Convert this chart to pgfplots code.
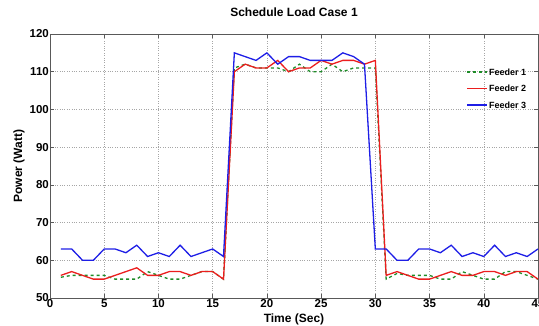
\documentclass[border=0pt]{standalone}
\usepackage{fontspec}
\setmainfont{Liberation Sans}
\usepackage{pgfplots}
\pgfplotsset{compat=1.18}
\definecolor{mgreen}{RGB}{30,140,40}
\definecolor{mred}{RGB}{235,30,30}
\definecolor{mblue}{RGB}{30,30,230}
\begin{document}
\begin{tikzpicture}
\begin{axis}[
  scale only axis,
  width=488pt, height=264pt,
  xmin=0, xmax=45, ymin=50, ymax=120,
  xtick={0,5,...,45}, ytick={50,60,...,120},
  grid=major,
  major grid style={black!35, dotted, line width=0.5pt},
  axis line style={black!65, line width=0.6pt},
  tick style={black!65, line width=0.5pt},
  tick align=inside,
  major tick length=4pt,
  /pgf/number format/assume math mode=true,
  tick label style={font=\fontsize{11.5}{12}\selectfont\bfseries, inner sep=1pt},
  title={Schedule Load Case 1},
  title style={at={(axis description cs:0.5,1)}, yshift=15.5pt, anchor=center, font=\fontsize{12}{13}\selectfont\bfseries},
  xlabel={Time (Sec)},
  ylabel={Power (Watt)},
  every axis x label/.style={at={(axis description cs:0.5,0)}, yshift=-21pt, anchor=center, font=\fontsize{12}{13}\selectfont\bfseries},
  every axis y label/.style={at={(axis description cs:0,0.5)}, xshift=-31pt, rotate=90, anchor=center, font=\fontsize{12}{13}\selectfont\bfseries},
]
\addplot[color=mgreen, dashed, line width=1.3pt] coordinates {
(1,55.5)(2,56)(3,56)(4,56)(5,56)(6,55)(7,55)(8,55)(9,57)(10,56)(11,55)(12,55)(13,56)(14,57)(15,57)(16,55)
(17,111)(18,112)(19,111)(20,111)(21,111)(22,110)(23,112)(24,110)(25,110)(26,112)(27,110)(28,111)(29,111)(30,111)
(31,55)(32,56.5)(33,56)(34,56)(35,56)(36,55)(37,55)(38,57)(39,56)(40,55)(41,55)(42,57)(43,57)(44,56)(45,55)};
\addplot[color=mred, line width=1.3pt] coordinates {
(1,56)(2,57)(3,56)(4,55)(5,55)(6,56)(7,57)(8,58)(9,56)(10,56)(11,57)(12,57)(13,56)(14,57)(15,57)(16,55)
(17,110)(18,112)(19,111)(20,111)(21,113)(22,110)(23,111)(24,111)(25,113)(26,112)(27,113)(28,113)(29,112)(30,113)
(31,56)(32,57)(33,56)(34,55)(35,55)(36,56)(37,57)(38,56)(39,56)(40,57)(41,57)(42,56)(43,57)(44,57)(45,55)};
\addplot[color=mblue, line width=1.3pt] coordinates {
(1,63)(2,63)(3,60)(4,60)(5,63)(6,63)(7,62)(8,64)(9,61)(10,62)(11,61)(12,64)(13,61)(14,62)(15,63)(16,61)
(17,115)(18,114)(19,113)(20,115)(21,112)(22,114)(23,114)(24,113)(25,113)(26,113)(27,115)(28,114)(29,112)
(30,63)(31,63)(32,60)(33,60)(34,63)(35,63)(36,62)(37,64)(38,61)(39,62)(40,61)(41,64)(42,61)(43,62)(44,61)(45,63)};
\draw[mgreen, dashed, line width=1.3pt] (rel axis cs:0.8545,0.856) -- (rel axis cs:0.8955,0.856)
  node[anchor=west, inner sep=1.5pt, text=black, font=\fontsize{9}{10}\selectfont\bfseries] {Feeder 1};
\draw[mred, line width=1.3pt] (rel axis cs:0.8545,0.7936) -- (rel axis cs:0.8955,0.7936)
  node[anchor=west, inner sep=1.5pt, text=black, font=\fontsize{9}{10}\selectfont\bfseries] {Feeder 2};
\draw[mblue, line width=1.3pt] (rel axis cs:0.8545,0.731) -- (rel axis cs:0.8955,0.731)
  node[anchor=west, inner sep=1.5pt, text=black, font=\fontsize{9}{10}\selectfont\bfseries] {Feeder 3};
\end{axis}
\pgfresetboundingbox
\path[use as bounding box] (-50pt,-28pt) rectangle (489pt,298pt);
\end{tikzpicture}
\end{document}
